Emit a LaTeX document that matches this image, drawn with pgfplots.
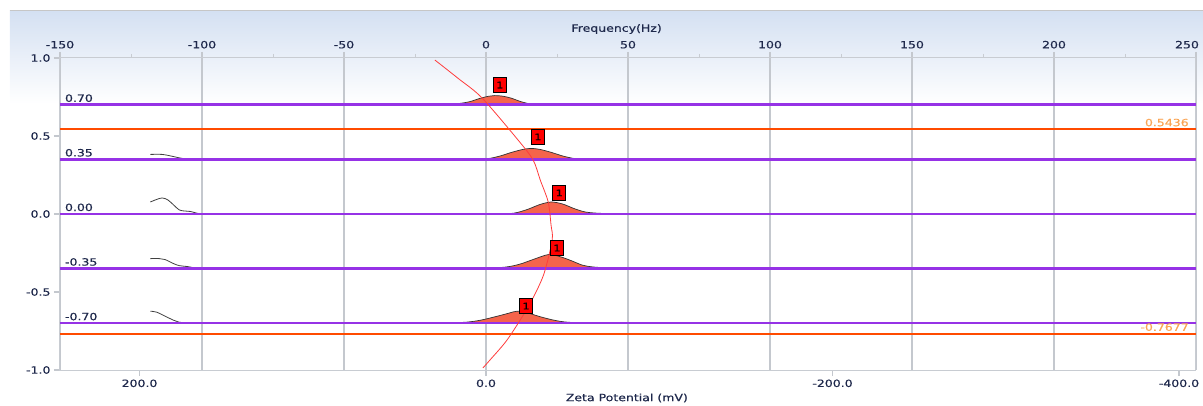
\documentclass[border=0pt]{standalone}
\usepackage{fontspec}
\setmainfont[FakeStretch=1.25, FakeBold=0.5]{DejaVu Sans}
\usepackage{pgfplots}
\pgfplotsset{compat=1.18}
\definecolor{navytext}{RGB}{30,40,75}
\definecolor{framegray}{RGB}{200,204,210}
\definecolor{gridgray}{RGB}{196,200,206}
\definecolor{purpleline}{RGB}{150,50,230}
\definecolor{orangeline}{RGB}{255,75,0}
\definecolor{orangetext}{RGB}{250,165,85}
\definecolor{peakfill}{RGB}{245,100,75}
\definecolor{redcurve}{RGB}{255,60,60}
\definecolor{headblue}{RGB}{212,224,242}
\begin{document}
\begin{tikzpicture}
\path[use as bounding box] (-60pt,-35pt) rectangle (1143pt,370pt);
\fill[top color=headblue, bottom color=white] (-50pt,359pt) rectangle (1143pt,266pt);
\draw[gray!45, line width=1pt] (-50pt,359pt) -- (1143pt,359pt);
\begin{axis}[
  scale only axis, width=1136pt, height=312pt,
  xmin=-150, xmax=250, ymin=-1, ymax=1,
  axis line style={draw=framegray, line width=1pt},
  xtick={-150,-100,...,250},
  xticklabels={-150,-100,-50,0,50,100,150,200,\hspace*{-18pt}250},
  xtick pos=right, xticklabel pos=right,
  ytick={-1,-0.5,0,0.5,1}, ytick pos=left,
  yticklabels={-1.0,-0.5,0.0,0.5,1.0},
  tick label style={font=\fontsize{10}{11}\selectfont, text=navytext},
  tick align=outside, major tick length=6pt, minor tick length=4pt,
  major tick style={draw=gridgray, line width=1.5pt},
  minor tick style={draw=framegray, line width=0.8pt},
  minor x tick num=1,
  xmajorgrids, major grid style={draw=gridgray, line width=1.8pt},
  xlabel={Frequency(Hz)},
  xlabel style={at={(axis description cs:0.49,1)}, anchor=center, yshift=29pt, font=\fontsize{10}{11}\selectfont, text=navytext},
  clip=false,
]
% left black traces
\addplot[black!75, line width=0.8pt, smooth] coordinates {(-118.2,0.703) (-112,0.707) (-108,0.707) (-104,0.702) (-100,0.702)};
\addplot[black!75, line width=0.8pt, smooth] coordinates {(-118.2,0.382) (-114,0.382) (-111,0.372) (-108,0.360) (-105.5,0.353) (-102,0.352)};
\addplot[black!75, line width=0.8pt, smooth] coordinates {(-118.2,0.077) (-116,0.093) (-114,0.103) (-112,0.090) (-110,0.058) (-108,0.026) (-106,0.019) (-104,0.016) (-102,0.006) (-100,0) (-97,0)};
\addplot[black!75, line width=0.8pt, smooth] coordinates {(-118.2,-0.286) (-115,-0.286) (-113,-0.292) (-110,-0.318) (-108,-0.331) (-105,-0.337) (-101,-0.347) (-88,-0.347)};
\addplot[black!75, line width=0.8pt, smooth] coordinates {(-118.2,-0.623) (-116,-0.629) (-113,-0.655) (-110,-0.681) (-108,-0.694) (-104,-0.697) (-103,-0.697)};
\addplot[gray!60, line width=0.8pt] coordinates {(-67,-0.346) (85,-0.346)};
% peaks
\addplot[fill=peakfill, draw=black!80, line width=0.7pt, smooth] coordinates {(-21,0.701) (-11,0.706) (-6,0.719) (-2,0.742) (1,0.755) (3,0.759) (6,0.755) (9,0.742) (12,0.722) (15.5,0.706) (20,0.703) (25,0.701)};
\addplot[fill=peakfill, draw=black!80, line width=0.7pt, smooth] coordinates {(-4,0.351) (1,0.356) (5,0.372) (9,0.395) (13,0.414) (16,0.4205) (19,0.414) (23,0.395) (27,0.372) (31,0.356) (35,0.351)};
\addplot[fill=peakfill, draw=black!80, line width=0.7pt, smooth] coordinates {(-1,0.001) (8,0.003) (11,0.0096) (15,0.032) (19,0.061) (23,0.077) (27,0.064) (31,0.035) (35,0.0128) (40,0.0045) (48,0.001)};
\addplot[fill=peakfill, draw=black!80, line width=0.7pt, smooth] coordinates {(-1.4,-0.349) (7,-0.340) (12,-0.321) (17,-0.289) (22,-0.260) (26,-0.273) (30,-0.299) (34,-0.328) (38,-0.340) (46,-0.349)};
\addplot[fill=peakfill, draw=black!80, line width=0.7pt, smooth] coordinates {(-24,-0.699) (-8.5,-0.695) (-2,-0.681) (4,-0.655) (8,-0.636) (11,-0.623) (15,-0.636) (19,-0.658) (24,-0.681) (29,-0.694) (38,-0.697) (47,-0.699)};
% horizontal lines
\addplot[purpleline, line width=2.6pt] coordinates {(-150,0.70) (250,0.70)};
\addplot[purpleline, line width=2.6pt] coordinates {(-150,0.35) (250,0.35)};
\addplot[purpleline, line width=1.8pt] coordinates {(-150,0) (250,0)};
\addplot[purpleline, line width=2.6pt] coordinates {(-150,-0.35) (250,-0.35)};
\addplot[purpleline, line width=1.5pt] coordinates {(-150,-0.70) (250,-0.70)};
\addplot[orangeline, line width=1.8pt] coordinates {(-150,0.5436) (250,0.5436)};
\addplot[orangeline, line width=2.4pt] coordinates {(-150,-0.7677) (250,-0.7677)};
% red curve
\addplot[redcurve, line width=0.8pt, smooth] coordinates {(-18.0,0.987) (-9.5,0.865) (-1.4,0.744) (11.3,0.474) (16.6,0.346) (19.1,0.218) (21.9,0.077) (22.9,-0.071) (23.3,-0.167) (20.5,-0.378) (17.1,-0.519) (13.8,-0.628) (7.4,-0.808) (1.4,-0.936) (-1.1,-0.987)};
% peak boxes
\addplot[only marks, mark=none, nodes near coords={1},
  every node near coord/.append style={draw=black, fill=red, line width=0.9pt, inner sep=0pt, minimum width=13pt, minimum height=15pt, font=\fontsize{9}{9}\selectfont, text=black, anchor=center}]
  coordinates {(4.9,0.827) (18.3,0.494) (25.8,0.135) (25,-0.218) (14.1,-0.59)};
% labels
\foreach \v/\t in {0.70/0.70, 0.35/0.35, 0/0.00, -0.35/-0.35, -0.70/-0.70}{
  \edef\temp{\noexpand\node[anchor=base west, text=navytext, font=\noexpand\fontsize{10}{11}\noexpand\selectfont, yshift=3pt, inner sep=0pt] at (axis cs:-148.3,\v) {\t};}
  \temp
}
\node[anchor=base east, text=orangetext, font=\fontsize{10}{11}\selectfont, yshift=3pt, inner sep=0pt] at (axis cs:247.5,0.5436) {0.5436};
\node[anchor=base east, text=orangetext, font=\fontsize{10}{11}\selectfont, yshift=3pt, inner sep=0pt] at (axis cs:247.5,-0.7677) {-0.7677};
\end{axis}
\begin{axis}[
  scale only axis, width=1136pt, height=312pt,
  xmin=-409.8, xmax=245.9, x dir=reverse, ymin=-1, ymax=1,
  hide y axis, axis x line*=bottom,
  axis line style={draw=framegray, line width=1pt},
  xtick={200,0,-200,-400}, xticklabels={200.0,0.0,-200.0,-400.0},
  tick label style={font=\fontsize{10}{11}\selectfont, text=navytext},
  tick align=outside, major tick length=6pt,
  major tick style={draw=gridgray, line width=1.5pt},
  xlabel={Zeta Potential (mV)},
  xlabel style={at={(axis description cs:0.499,0)}, anchor=center, yshift=-28pt, font=\fontsize{10}{11}\selectfont, text=navytext},
]
\addplot[draw=none] coordinates {(0,0)};
\end{axis}
\end{tikzpicture}
\end{document}
